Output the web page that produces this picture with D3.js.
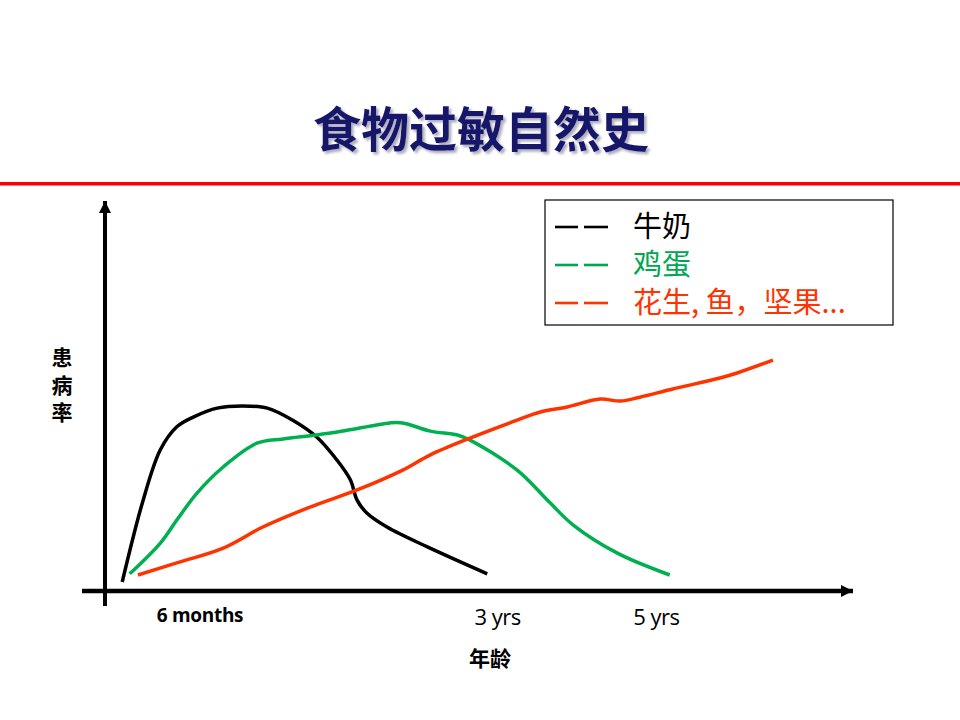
<!DOCTYPE html>
<html>
<head>
<meta charset="utf-8">
<script src="https://cdn.jsdelivr.net/npm/d3@7"></script>
<style>
  body { margin: 0; background: #fff; }
  svg { display: block; }
</style>
</head>
<body>
<div id="chart"></div>
<script>
// series: [x, y] in chart units (0..100 along each axis)
var milk = [[2.3,2.3],[5.1,23.3],[7.4,36.2],[9.6,42.1],[11.8,44.6],[15.0,46.9],[19.4,47.4],
  [21.7,46.9],[25.1,43.8],[28.3,39.5],[31.0,33.6],[32.8,28.5],[33.7,23.3],[35.0,20.0],
  [37.7,16.4],[43.1,11.3],[51.1,4.4]]
var egg = [[3.3,4.4],[7.4,12.3],[9.6,18.2],[12.3,25.1],[15.8,31.8],[20.3,37.9],[23.8,39.0],
  [28.3,40.0],[31.8,41.0],[38.1,43.1],[39.8,43.1],[43.5,41.0],[47.1,40.0],[48.8,38.7],
  [55.1,31.0],[59.5,22.6],[62.6,16.9],[68.5,9.7],[75.5,4.1]]
var nuts = [[4.4,4.1],[9.6,7.2],[15.8,11.0],[21.1,16.4],[27.4,21.5],[33.7,25.9],[39.8,31.0],
  [43.5,34.9],[48.8,39.2],[55.1,43.8],[58.2,45.9],[61.8,47.2],[66.2,49.2],[68.9,48.7],
  [71.5,49.7],[75.9,51.8],[82.2,54.6],[84.5,55.9],[89.3,59.2]]

var seriesNames = ["牛奶", "鸡蛋", "花生, 鱼，坚果..."]
var seriesColors = ["#000000", "#00b050", "#ff3300"]
var legendColors = ["#000000", "#00a651", "#ff3300"]

var tickLabels = ["6 months", "3 yrs", "5 yrs"]
var tickPos = [12.7, 52.5, 73.7]
var tickBold = [true, false, false]

var W = 960, H = 720

var svg = d3.select("#chart").append("svg")
  .attr("width", W)
  .attr("height", H)

var x = d3.scaleLinear().domain([0, 100]).range([105, 853])
var y = d3.scaleLinear().domain([0, 100]).range([591, 201])

var defs = svg.append("defs")
var shadow = defs.append("filter")
  .attr("id", "title_shadow")
  .attr("x", "-10%").attr("y", "-20%")
  .attr("width", "120%").attr("height", "150%")
shadow.append("feDropShadow")
  .attr("dx", 2.5).attr("dy", 2.5)
  .attr("stdDeviation", 1)
  .attr("flood-color", "#9a9ab0")
  .attr("flood-opacity", 0.8)

// title
svg.append("text")
  .attr("x", 481).attr("y", 147)
  .attr("text-anchor", "middle")
  .attr("font-family", "Noto Sans CJK SC")
  .attr("font-weight", "bold")
  .attr("font-size", 48)
  .attr("fill", "#14146a")
  .attr("filter", "url(#title_shadow)")
  .text("食物过敏自然史")

// red rule
svg.append("rect")
  .attr("x", 0).attr("y", 182)
  .attr("width", W).attr("height", 3.5)
  .attr("fill", "#ff0000")

// arrows
defs.append("marker")
  .attr("id", "arrowhead")
  .attr("viewBox", "0 -5 10 10")
  .attr("refX", 10)
  .attr("refY", 0)
  .attr("markerUnits", "userSpaceOnUse")
  .attr("markerWidth", 12)
  .attr("markerHeight", 12)
  .attr("orient", "auto")
  .append("path")
    .attr("d", "M0,-5L10,0L0,5Z")
    .attr("fill", "#000")

svg.append("line")
  .attr("x1", x(0)).attr("y1", 606)
  .attr("x2", x(0)).attr("y2", y(100))
  .attr("stroke", "#000").attr("stroke-width", 4)
  .attr("marker-end", "url(#arrowhead)")
svg.append("line")
  .attr("x1", 82).attr("y1", y(0))
  .attr("x2", x(100)).attr("y2", y(0))
  .attr("stroke", "#000").attr("stroke-width", 4.5)
  .attr("marker-end", "url(#arrowhead)")

// curves
var line = d3.line()
  .x(function (d) { return x(d[0]) })
  .y(function (d) { return y(d[1]) })
  .curve(d3.curveCatmullRom.alpha(0.5))

var allSeries = [milk, egg, nuts]
svg.append("g").selectAll("path")
  .data(allSeries)
  .join("path")
    .attr("d", line)
    .attr("fill", "none")
    .attr("stroke", function (d, i) { return seriesColors[i] })
    .attr("stroke-width", 3.5)
    .attr("stroke-linejoin", "round")

// x tick labels
svg.append("g").selectAll("text")
  .data(tickLabels)
  .join("text")
    .attr("x", function (d, i) { return x(tickPos[i]) })
    .attr("y", function (d, i) { return tickBold[i] ? 622 : 625 })
    .attr("text-anchor", "middle")
    .attr("font-family", "Open Sans")
    .attr("font-weight", function (d, i) { return tickBold[i] ? "bold" : "normal" })
    .attr("font-size", function (d, i) { return tickBold[i] ? 19 : 22 })
    .attr("letter-spacing", function (d, i) { return tickBold[i] ? -0.3 : -0.5 })
    .attr("fill", "#000")
    .text(function (d) { return d })

// axis titles
svg.append("text")
  .attr("x", 490).attr("y", 666)
  .attr("text-anchor", "middle")
  .attr("font-family", "Noto Sans CJK SC")
  .attr("font-weight", "bold")
  .attr("font-size", 21)
  .text("年龄")

var yTitle = ["患", "病", "率"]
svg.append("g").selectAll("text")
  .data(yTitle)
  .join("text")
    .attr("x", 62)
    .attr("y", function (d, i) { return 365 + i * 27.5 })
    .attr("text-anchor", "middle")
    .attr("font-family", "Noto Sans CJK SC")
    .attr("font-weight", "bold")
    .attr("font-size", 21)
    .text(function (d) { return d })

// legend
var legend = svg.append("g")
legend.append("rect")
  .attr("x", 545).attr("y", 200)
  .attr("width", 348).attr("height", 125)
  .attr("fill", "#fff")
  .attr("stroke", "#000").attr("stroke-width", 1.2)

var rows = legend.selectAll("g.row")
  .data(seriesNames)
  .join("g")
    .attr("class", "row")
    .attr("transform", function (d, i) { return "translate(0," + (227 + i * 38) + ")" })

rows.append("line")
  .attr("x1", 555).attr("x2", 578)
  .attr("y1", 0).attr("y2", 0)
  .attr("stroke", function (d, i) { return legendColors[i] })
  .attr("stroke-width", 2.6)
rows.append("line")
  .attr("x1", 584).attr("x2", 608)
  .attr("y1", 0).attr("y2", 0)
  .attr("stroke", function (d, i) { return legendColors[i] })
  .attr("stroke-width", 2.6)
rows.append("text")
  .attr("x", 633).attr("y", 0)
  .attr("dy", "0.36em")
  .attr("font-family", "Noto Sans CJK SC")
  .attr("font-size", 29)
  .attr("fill", function (d, i) { return legendColors[i] })
  .text(function (d) { return d })
</script>
</body>
</html>
